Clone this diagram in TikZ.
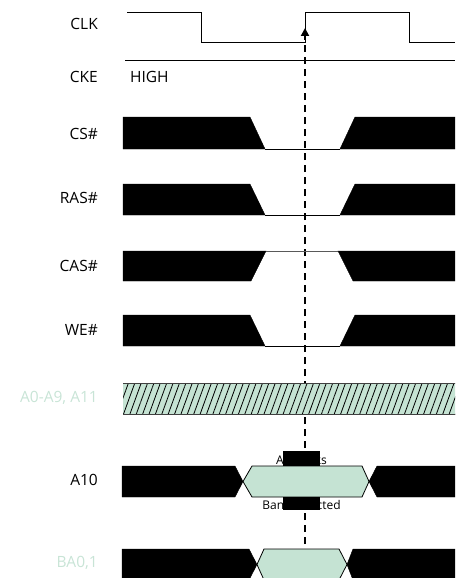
\documentclass[tikz,border=0pt]{standalone}
\usepackage{fontspec}
\setmainfont{Open Sans}
\usetikzlibrary{arrows.meta,patterns.meta}
\definecolor{sigfill}{RGB}{197,227,211}
\definecolor{lblgreen}{RGB}{200,228,214}
\begin{document}
\begin{tikzpicture}[x=1pt,y=-1pt,
 lbl/.style={anchor=east,font=\fontsize{15.5}{18}\selectfont,inner sep=0pt},
 blk/.style={fill=black,draw=black,line width=0.4pt},
 hexa/.style={fill=sigfill,draw=black,line width=0.8pt},
 wave/.style={line width=1pt,line join=miter},
 marker/.style={line width=2pt,dash pattern=on 7pt off 5pt},
 small/.style={font=\fontsize{12}{14}\selectfont,inner sep=0pt}]
\useasboundingbox (0,0) rectangle (455,578);
\clip (0,0) rectangle (455,578);

% labels
\node[lbl] (lclk) at (98,24) {CLK};
\node[lbl] (lcke) at (98,77) {CKE};
\node[lbl] (lcs) at (98,134) {CS\#};
\node[lbl] (lras) at (98,198) {RAS\#};
\node[lbl] (lcas) at (98,266) {CAS\#};
\node[lbl] (lwe) at (98,330) {WE\#};
\node[lbl,text=lblgreen] (laddr) at (98,398) {A0-A9, A11};
\node[lbl] (la10) at (98,480) {A10};
\node[lbl,text=lblgreen] (lba) at (98,563) {BA0,1};

% reference marker
\coordinate (tip) at (305,28);
\coordinate (bot) at (305,580);
\draw[marker,-{Triangle[width=8pt,length=8pt]}] (bot) -- (tip);

% CLK
\draw[wave] (127,13) -- (201,13) -- (201,43) -- (305,43) -- (305,13) -- (409,13) -- (409,43) -- (455,43);
% CKE
\draw[wave] (125,61) -- (455,61);
\node[anchor=west,font=\fontsize{15.5}{18}\selectfont,inner sep=0pt] (high) at (130,77) {HIGH};

% CS#
\fill[blk] (123,117) -- (250,117) -- (265,149) -- (123,149) -- cycle;
\draw[wave] (265,149) -- (340,149);
\fill[blk] (355,117) -- (456,117) -- (456,149) -- (340,149) -- cycle;
% RAS#
\fill[blk] (123,184) -- (250,184) -- (265,215) -- (123,215) -- cycle;
\draw[wave] (265,215) -- (340,215);
\fill[blk] (355,184) -- (456,184) -- (456,215) -- (340,215) -- cycle;
% CAS#
\fill[blk] (123,251) -- (266,251) -- (251,281) -- (123,281) -- cycle;
\draw[wave,draw=black!65] (266,251) -- (338,251);
\fill[blk] (338,251) -- (456,251) -- (456,281) -- (353,281) -- cycle;
% WE#
\fill[blk] (123,315) -- (250,315) -- (265,346) -- (123,346) -- cycle;
\draw[wave] (265,346) -- (340,346);
\fill[blk] (355,315) -- (456,315) -- (456,346) -- (340,346) -- cycle;

% A0-A9, A11
\fill[sigfill] (123,383) rectangle (456,414);
\fill[pattern={Lines[angle=70,distance=6pt,line width=0.8pt]},pattern color=black] (123,383) rectangle (456,414);
\draw[line width=1pt,draw=black!75] (123,383) -- (456,383) (123,414) -- (456,414);

% A10
\fill[blk] (122,466) -- (235,466) -- (243,481.5) -- (235,497) -- (122,497) -- cycle;
\filldraw[hexa] (243,481.5) -- (252,466) -- (362,466) -- (369,481.5) -- (362,497) -- (252,497) -- cycle;
\fill[blk] (369,481.5) -- (377,466) -- (456,466) -- (456,497) -- (377,497) -- cycle;
\node[small] (allb) at (301.5,460) {All Banks};
\node[small] (banks) at (301.5,505) {Bank Selected};
\fill[black] (283,451) rectangle (320,466);
\fill[black] (283,497) rectangle (320,510);

% BA0,1
\fill[blk] (122,549) -- (249,549) -- (257,564.5) -- (249,580) -- (122,580) -- cycle;
\filldraw[hexa] (257,564.5) -- (264,549) -- (339,549) -- (347,564.5) -- (339,580) -- (264,580) -- cycle;
\fill[blk] (347,564.5) -- (353,549) -- (456,549) -- (456,580) -- (353,580) -- cycle;
\end{tikzpicture}
\end{document}
